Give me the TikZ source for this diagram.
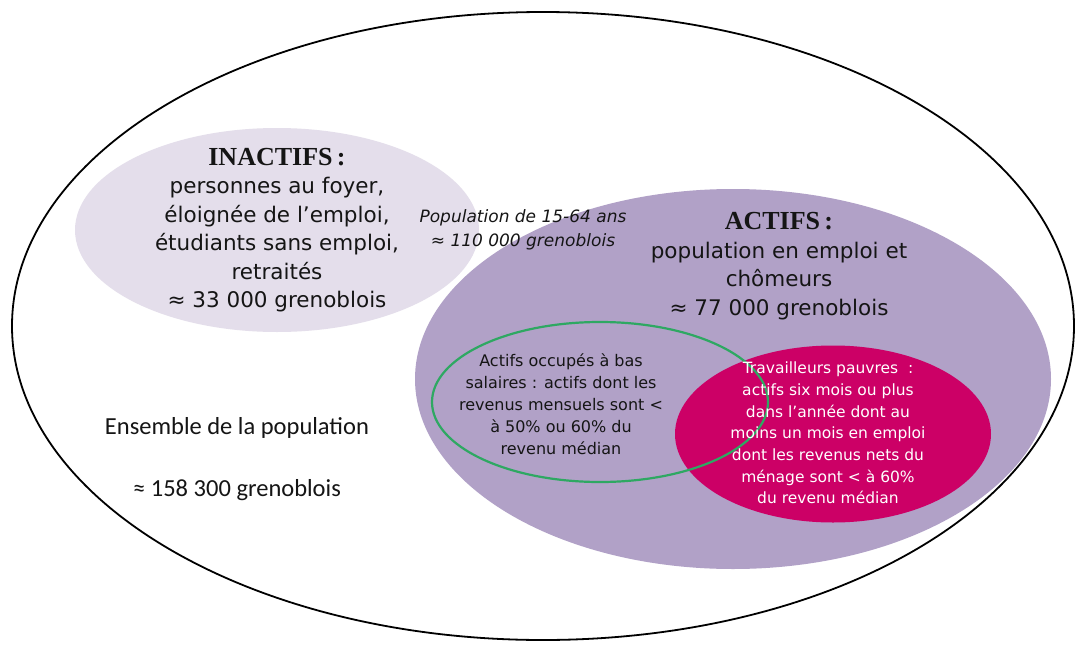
\documentclass[tikz,border=0pt]{standalone}
\usepackage{fontspec}
\setmainfont{DejaVu Sans}
\newfontfamily\titlefont{Liberation Serif}
\newfontfamily\calfont{Carlito}
\usetikzlibrary{shapes.geometric}
\definecolor{inact}{HTML}{E4DEEB}
\definecolor{actif}{HTML}{B1A1C7}
\definecolor{pauvre}{HTML}{CC0066}
\definecolor{bas}{HTML}{2EA862}
\definecolor{txt}{HTML}{151515}
\begin{document}
\begin{tikzpicture}[x=1pt,y=-1pt,
  blob/.style={ellipse,inner sep=0pt,outer sep=0pt},
  lbl/.style={align=center,text=txt,inner sep=0pt}]
\useasboundingbox (0,0) rectangle (1077,648);
\fill[white] (0,0) rectangle (1077,648);
% ellipses
\node[blob,fill=inact,minimum width=404pt,minimum height=204pt] (inactifs) at (277,230) {};
\node[blob,fill=actif,minimum width=636pt,minimum height=380pt] (actifs) at (733,379) {};
\node[blob,fill=pauvre,minimum width=316pt,minimum height=177pt] (pauvres) at (833,434) {};
\node[blob,draw=bas,line width=2.2pt,minimum width=336pt,minimum height=160pt] (bas) at (600,402) {};
\node[blob,draw=black,line width=1.8pt,minimum width=1062pt,minimum height=628pt] (ensemble) at (543,326) {};
% texts
\node[lbl,font=\fontsize{21.5}{28.5}\selectfont] (tinact) at (277,230)
  {{\titlefont\bfseries\fontsize{26}{28.5}\selectfont INACTIFS\,:}\\personnes au foyer,\\éloignée de l’emploi,\\étudiants sans emploi,\\retraités\\≈ 33 000 grenoblois};
\node[lbl,font=\fontsize{21.5}{28.5}\selectfont] (tact) at (779,266)
  {{\titlefont\bfseries\fontsize{26}{28.5}\selectfont ACTIFS\,:}\\population en emploi et\\chômeurs\\≈ 77 000 grenoblois};
\node[lbl,font=\itshape\fontsize{17}{24}\selectfont] (tpop) at (523,230)
  {Population de 15-64 ans\\≈ 110 000 grenoblois};
\node[lbl,font=\fontsize{16}{22}\selectfont] (tbas) at (561,404)
  {Actifs occupés à bas\\salaires : actifs dont les\\revenus mensuels sont <\\à 50\% ou 60\% du\\revenu médian};
\node[lbl,text=white,font=\fontsize{15.5}{21.7}\selectfont] (tpauv) at (828,433)
  {Travailleurs pauvres~~:\\actifs six mois ou plus\\dans l’année dont au\\moins un mois en emploi\\dont les revenus nets du\\ménage sont < à 60\%\\du revenu médian};
\node[lbl,font=\calfont\fontsize{24.5}{26}\selectfont] (tens) at (237,428) {Ensemble de la population};
\node[lbl,font=\calfont\fontsize{24.5}{26}\selectfont] (tnb) at (237,490) {≈ 158 300 grenoblois};
\end{tikzpicture}
\end{document}
